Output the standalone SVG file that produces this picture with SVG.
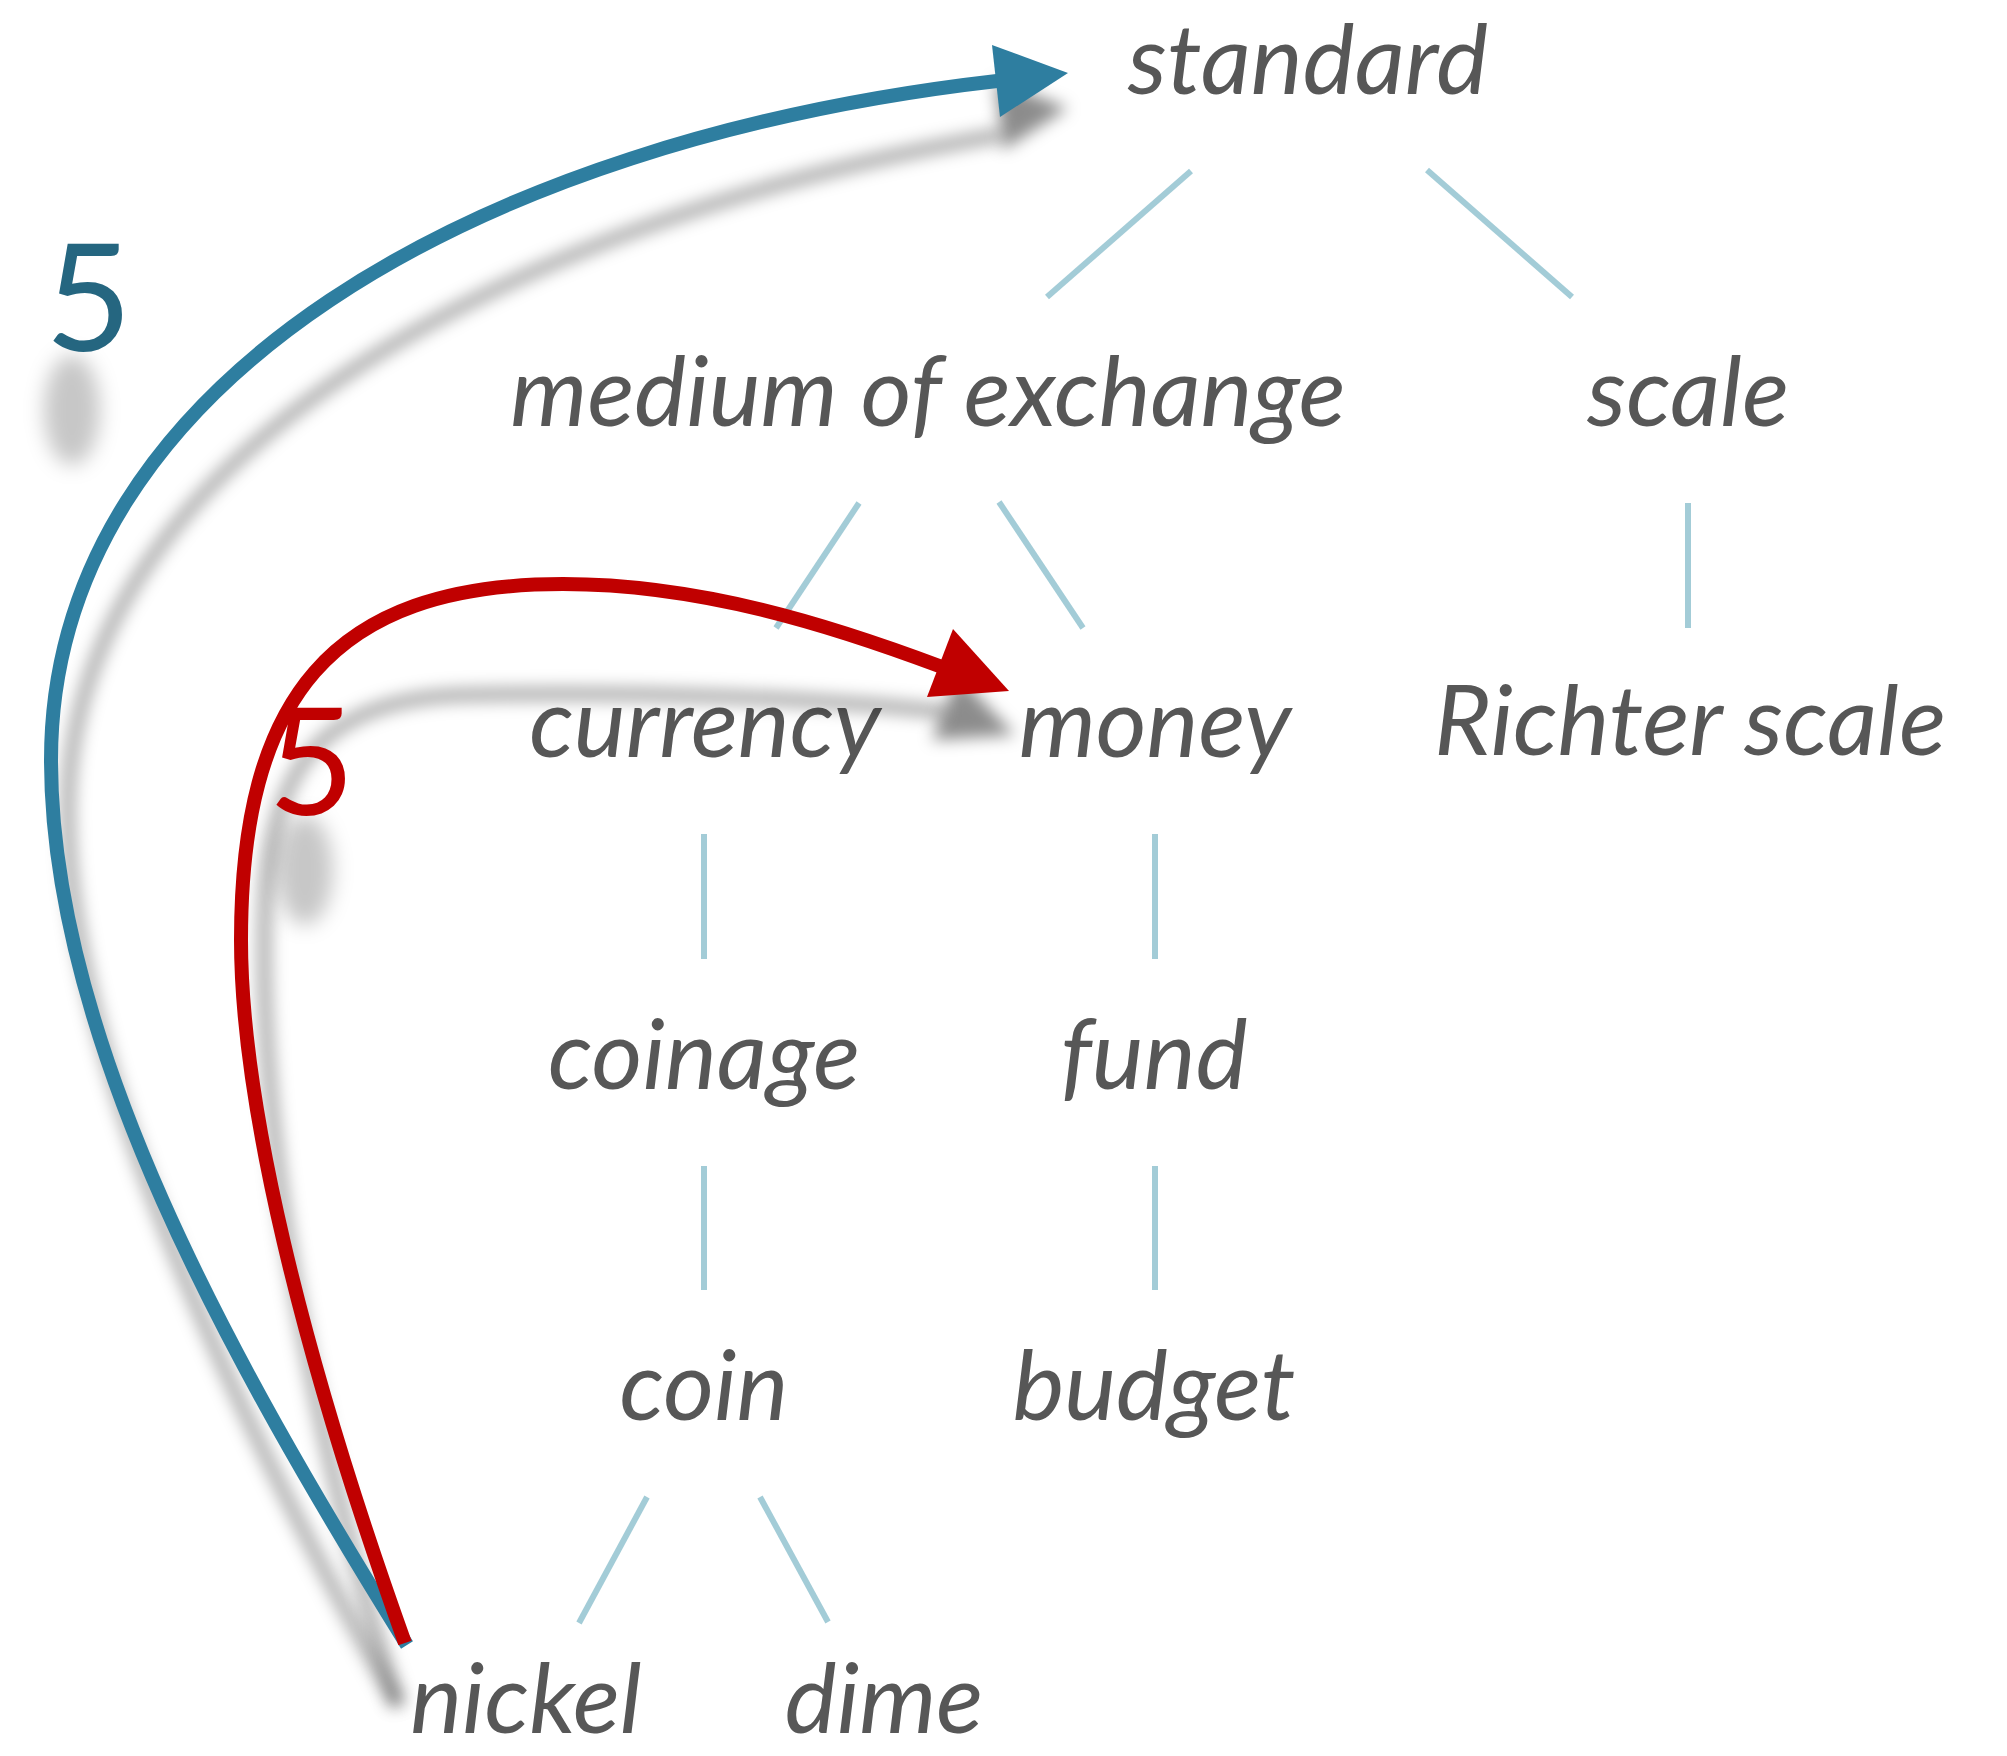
<svg xmlns="http://www.w3.org/2000/svg" width="2007" height="1756" viewBox="0 0 2007 1756">
<defs>
<style>
.lbl{font-family:Lato,"Open Sans","DejaVu Sans",sans-serif;font-style:italic;font-size:98px;fill:#575757;text-anchor:middle}
.edge{stroke:#a3ccd7;stroke-width:6;fill:none}
.num{font-family:Lato,"Open Sans","DejaVu Sans",sans-serif;font-size:150px}
.sh{fill:none;stroke:#000;stroke-opacity:0.32;stroke-width:14;filter:url(#blur)}
</style>
<filter id="blur" x="-30%" y="-30%" width="160%" height="160%"><feGaussianBlur stdDeviation="8"/></filter>
<filter id="blur2" x="-50%" y="-50%" width="200%" height="200%"><feGaussianBlur stdDeviation="10"/></filter>
</defs>
<rect width="2007" height="1756" fill="#fff"/>
<g id="edges">
<line class="edge" x1="1191" y1="171" x2="1047" y2="297"/>
<line class="edge" x1="1427" y1="170" x2="1572" y2="297"/>
<line class="edge" x1="859" y1="503" x2="776" y2="628"/>
<line class="edge" x1="999" y1="502" x2="1083" y2="628"/>
<line class="edge" x1="1688" y1="503" x2="1688" y2="628"/>
<line class="edge" x1="704" y1="834" x2="704" y2="959"/>
<line class="edge" x1="1155" y1="834" x2="1155" y2="959"/>
<line class="edge" x1="704" y1="1166" x2="704" y2="1290"/>
<line class="edge" x1="1155" y1="1166" x2="1155" y2="1290"/>
<line class="edge" x1="647" y1="1497" x2="579" y2="1623"/>
<line class="edge" x1="760" y1="1497" x2="828" y2="1622"/>
</g>
<g id="n-standard"><text class="lbl" x="1308" y="94">standard</text></g>
<g id="n-medium"><text class="lbl" x="928" y="426">medium of exchange</text></g>
<g id="n-scale"><text class="lbl" x="1688" y="426">scale</text></g>
<g id="n-currency"><text class="lbl" x="705" y="757">currency</text></g>
<g id="n-money"><text class="lbl" x="1155" y="757">money</text></g>
<g id="n-richter"><text class="lbl" x="1690" y="755">Richter scale</text></g>
<g id="n-coinage"><text class="lbl" x="704" y="1089">coinage</text></g>
<g id="n-fund"><text class="lbl" x="1154" y="1089">fund</text></g>
<g id="n-coin"><text class="lbl" x="704" y="1420">coin</text></g>
<g id="n-budget"><text class="lbl" x="1154" y="1420">budget</text></g>
<g id="n-nickel"><text class="lbl" x="526" y="1733">nickel</text></g>
<g id="n-dime"><text class="lbl" x="884" y="1733">dime</text></g>
<g id="connectors">
<g id="shadows">
<path class="sh" d="M 398 1705 C 225 1400 64 1050 68 805 C 72 470 480 225 1000 135"/>
<polygon points="995,80 1003,150 1068,108" fill="#000" fill-opacity="0.45" filter="url(#blur)"/>
<path class="sh" d="M 398 1705 C 300 1400 258 1110 265 905 C 270 760 330 700 460 695 C 650 690 840 700 945 712"/>
<polygon points="958,675 932,740 1015,735" fill="#000" fill-opacity="0.45" filter="url(#blur)"/>
<ellipse cx="72" cy="410" rx="28" ry="55" fill="#000" fill-opacity="0.22" filter="url(#blur2)"/>
<ellipse cx="305" cy="870" rx="28" ry="55" fill="#000" fill-opacity="0.22" filter="url(#blur2)"/>
</g>
<g id="arrow-blue">
<path d="M 407 1645 C 230 1360 51 1040 51 760 C 51 380 480 140 997 81" fill="none" stroke="#2e7ea0" stroke-width="14"/>
<polygon points="992,45 1068,73 1000,117" fill="#2e7ea0"/>
</g>
<g id="arrow-red">
<path d="M 405 1643 C 300 1350 241 1100 241 940 C 241 700 330 584 563 584 C 700 584 830 625 942 667" fill="none" stroke="#c00000" stroke-width="14"/>
<polygon points="953,629 1009,691 927,697" fill="#c00000"/>
</g>
</g>
<g id="labels">
<text class="num" x="45" y="351" fill="#256680">5</text>
<text class="num" x="268" y="815" fill="#c00000">5</text>
</g>
</svg>
